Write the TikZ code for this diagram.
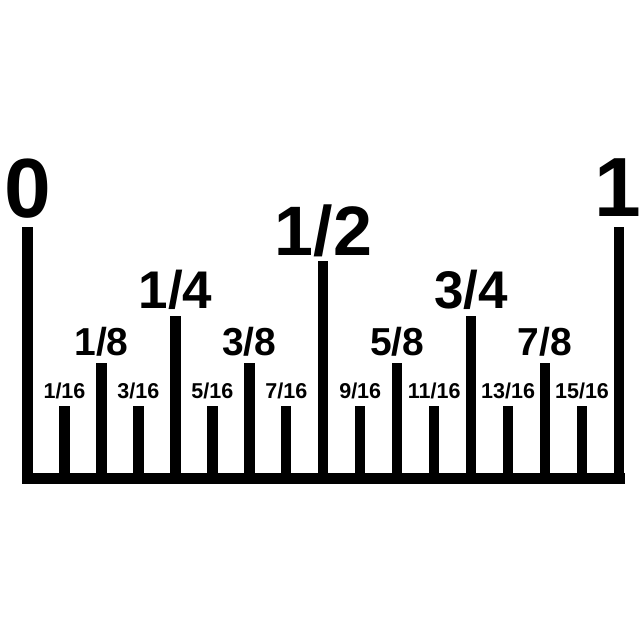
\documentclass[tikz,border=0pt]{standalone}
\usepackage{fontspec}
\setmainfont{Liberation Sans}
\begin{document}
\begin{tikzpicture}[x=1pt,y=-1pt,
  tickbar/.style={fill=black},
  lab/.style={anchor=base, inner sep=0pt, font=\bfseries}]
\useasboundingbox (0,0) rectangle (640,640);
\fill[white] (0,0) rectangle (640,640);
% baseline
\fill[tickbar] (22,473) rectangle (624.5,484);
% ticks
\foreach \i/\t in {0/227,1/406,2/363,3/406,4/316,5/406,6/363,7/406,8/261,9/406,10/363,11/406,12/316,13/406,14/363,15/406,16/227}{
  \pgfmathsetmacro{\cx}{27.5+\i*36.97}
  \fill[tickbar] (\cx-5.2,\t) rectangle (\cx+5.2,478);
}
% labels
\node[lab] (l0) at (28,217) {\fontsize{84}{84}\selectfont 0};
\node[lab] (l1) at (618,216) {\makebox[0pt]{\fontsize{84}{84}\selectfont 1}};
\node[lab] (l12) at (323.3,255) {\fontsize{70}{70}\selectfont 1/2};
\node[lab] (l14) at (175.4,308) {\fontsize{53}{53}\selectfont 1/4};
\node[lab] (l34) at (471.1,308) {\fontsize{53}{53}\selectfont 3/4};
\foreach \i/\n in {2/1,6/3,10/5,14/7}{
  \pgfmathsetmacro{\cx}{27.5+\i*36.97}
  \node[lab] (l\n8) at (\cx,355) {\fontsize{39}{39}\selectfont \n/8};
}
\foreach \i in {1,3,5,7,9,11,13,15}{
  \pgfmathsetmacro{\cx}{27.5+\i*36.97}
  \node[lab] (l\i16) at (\cx,398) {\fontsize{21.5}{21.5}\selectfont \i/16};
}
\end{tikzpicture}
\end{document}
